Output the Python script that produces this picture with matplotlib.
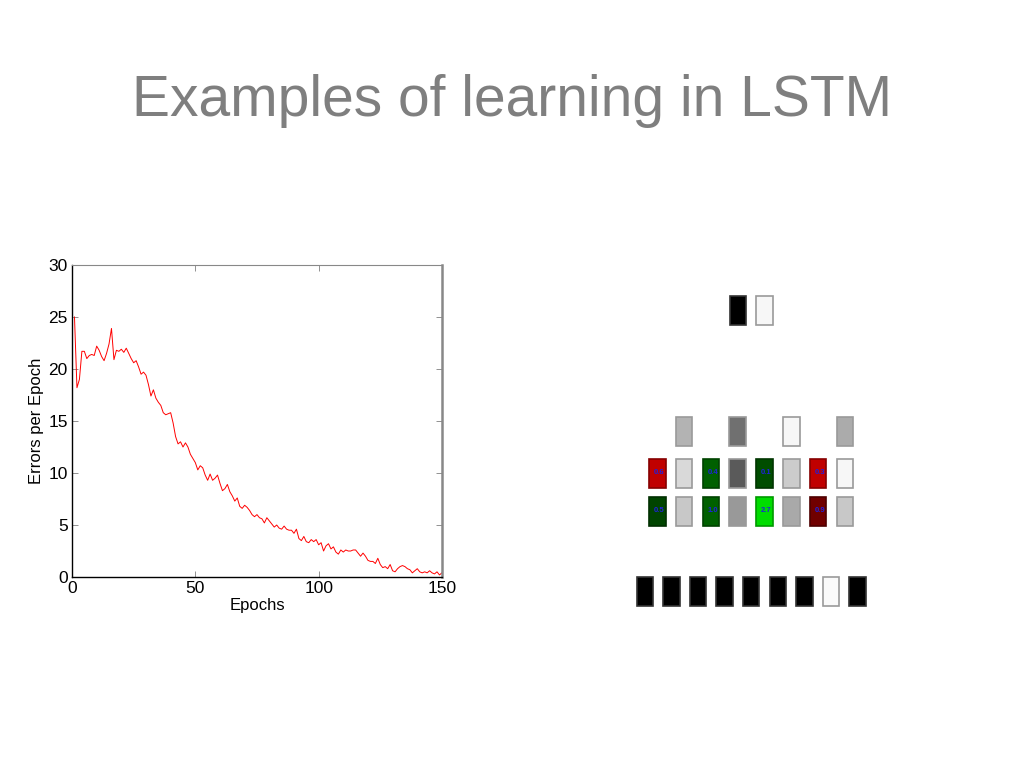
import matplotlib
matplotlib.use("Agg")
import matplotlib.pyplot as plt
from matplotlib.patches import Rectangle

# Errors per epoch (epochs 0..150)
errors = [
    25.0, 18.2, 19.0, 21.7, 21.7, 21.0, 21.3, 21.4, 21.3, 22.2,
    21.8, 21.2, 20.8, 21.5, 22.4, 23.9, 20.9, 21.8, 21.7, 21.9,
    21.6, 22.0, 21.5, 21.0, 20.6, 20.8, 20.2, 19.5, 19.7, 19.4,
    18.5, 17.4, 18.0, 17.2, 16.8, 16.5, 15.8, 15.6, 15.7, 15.8,
    14.8, 13.5, 12.8, 13.0, 12.5, 12.9, 12.5, 11.8, 11.4, 11.0,
    10.3, 10.7, 10.5, 9.8, 9.3, 9.9, 9.3, 9.5, 9.8, 9.0,
    8.3, 8.5, 8.9, 8.2, 7.8, 7.3, 7.6, 6.8, 6.6, 6.9,
    6.7, 6.4, 6.0, 5.8, 6.0, 5.7, 5.6, 5.2, 5.7, 5.4,
    5.1, 4.8, 5.0, 4.7, 4.6, 4.9, 4.6, 4.5, 4.5, 4.2,
    4.6, 3.7, 3.5, 3.9, 3.4, 3.3, 3.6, 3.4, 3.6, 3.1,
    3.3, 2.5, 3.0, 3.2, 2.7, 2.9, 2.4, 2.2, 2.6, 2.4,
    2.6, 2.5, 2.5, 2.6, 2.6, 2.3, 2.0, 2.3, 2.0, 1.6,
    1.5, 1.5, 1.3, 1.8, 1.2, 0.9, 1.0, 0.8, 1.2, 0.6,
    0.5, 0.8, 1.0, 1.1, 1.0, 0.8, 0.7, 0.4, 0.6, 0.8,
    0.5, 0.4, 0.5, 0.4, 0.6, 0.4, 0.3, 0.5, 0.2, 0.4,
]
epochs = list(range(1, len(errors) + 1))

# network diagram: box fill colours per row (None = empty slot)
input_row = ['#000000', '#f7f7f7']
gate_row = [None, '#b3b3b3', None, '#707070', None, '#f7f7f7', None, '#ababab']
cell_row_a = ['#c00000', '#d9d9d9', '#006000', '#5a5a5a', '#004d00', '#cccccc', '#c00000', '#f7f7f7']
cell_row_b = ['#004400', '#c8c8c8', '#006000', '#999999', '#00dd00', '#a9a9a9', '#700000', '#c8c8c8']
cell_labels_a = ['0.6', None, '0.4', None, '0.1', None, '0.3', None]
cell_labels_b = ['0.5', None, '1.0', None, '2.7', None, '0.9', None]
output_row = ['#000000'] * 7 + ['#fafafa', '#000000']

plt.rcParams['font.family'] = ['Liberation Sans', 'DejaVu Sans']

fig = plt.figure(figsize=(10.23, 7.67), dpi=100)
fig.text(0.5, 0.868, 'Examples of learning in LSTM', ha='center', va='center',
         fontsize=41, color='#7f7f7f')

ax = fig.add_axes([0.0704, 0.2477, 0.3616, 0.4068])
ax.plot(epochs, errors, color='#ff0000', linewidth=0.7)
ax.set_xlim(0, 150)
ax.set_ylim(0, 30)
ax.set_xticks([0, 50, 100, 150])
ax.set_yticks([0, 5, 10, 15, 20, 25, 30])
ax.tick_params(direction='in', top=True, right=True, length=4, width=0.6,
               color='#808080', labelsize=12.5, pad=3)
ax.set_xlabel('Epochs', fontsize=12, labelpad=1)
ax.set_ylabel('Errors per Epoch', fontsize=12, labelpad=3)
for side in ['left', 'bottom']:
    ax.spines[side].set_color('black')
    ax.spines[side].set_linewidth(1.0)
ax.spines['top'].set_color('#888888')
ax.spines['top'].set_linewidth(0.8)
ax.spines['right'].set_color('#888888')
ax.spines['right'].set_linewidth(1.8)

# overlay in pixel coordinates for the diagram
dax = fig.add_axes([0, 0, 1, 1])
dax.set_xlim(0, 1023)
dax.set_ylim(767, 0)
dax.axis('off')

bw, bh = 16.5, 29


def edge_of(c):
    if c in ('#000000',):
        return '#333333'
    r, g, b = (int(c[i:i + 2], 16) for i in (1, 3, 5))
    if r == g == b:
        return '#9a9a9a'
    return '#%02x%02x%02x' % (int(r * 0.7), int(g * 0.7), int(b * 0.7))


def draw_row(colors, x0, step, y, labels=None):
    for k, c in enumerate(colors):
        if c is None:
            continue
        x = x0 + step * k
        dax.add_patch(Rectangle((x, y), bw, bh, facecolor=c,
                                edgecolor=edge_of(c), linewidth=1.2))
        if labels and labels[k]:
            dax.text(x + bw * 0.62, y + bh * 0.45, labels[k], ha='center',
                     va='center', fontsize=5.5, color='#2020dd', fontweight='bold')


draw_row(input_row, 729.5, 26.8, 296)
draw_row(gate_row, 649, 26.8, 416.5)
draw_row(cell_row_a, 649, 26.8, 459, cell_labels_a)
draw_row(cell_row_b, 649, 26.8, 497, cell_labels_b)
draw_row(output_row, 636.5, 26.6, 576.5)

fig.savefig('out.png', dpi=100)
